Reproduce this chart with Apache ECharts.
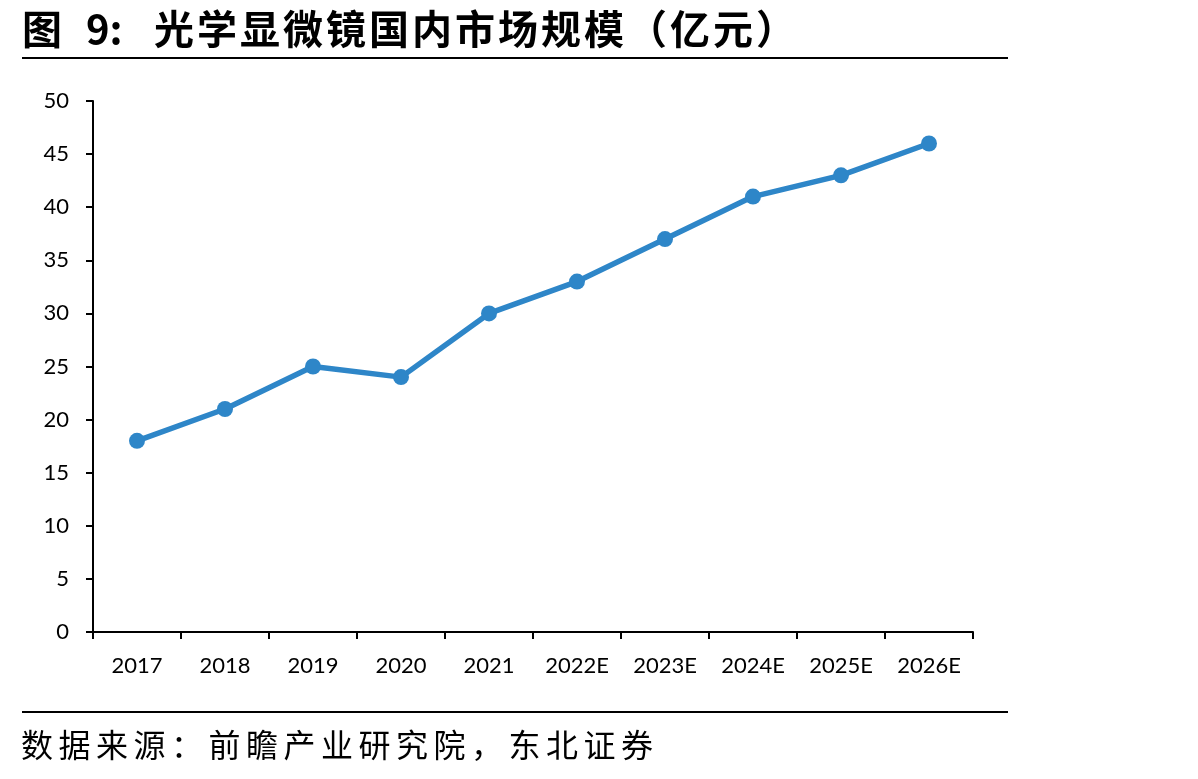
<!DOCTYPE html>
<html>
<head>
<meta charset="utf-8">
<script src="https://cdn.jsdelivr.net/npm/echarts@6/dist/echarts.min.js"></script>
<style>
  html, body { margin: 0; padding: 0; background: #fff; }
  #main { width: 1198px; height: 779px; }
</style>
</head>
<body>
<div id="main"></div>
<script>
// 年份与市场规模（亿元）
var years = ['2017', '2018', '2019', '2020', '2021', '2022E', '2023E', '2024E', '2025E', '2026E'];
var marketSize = [18, 21, 25, 24, 30, 33, 37, 41, 43, 46];
var yTicks = [0, 5, 10, 15, 20, 25, 30, 35, 40, 45, 50];

var titleText = '光学显微镜国内市场规模（亿元）';
var sourceText = '数据来源：前瞻产业研究院，东北证券';

// 按固定间距逐字排列文字
function spacedText(str, x0, step, y, font) {
  var out = [];
  for (var i = 0; i < str.length; i++) {
    out.push({ type: 'text', x: x0 + i * step, y: y,
      style: { text: str.charAt(i), font: font, fill: '#000', textVerticalAlign: 'middle' } });
  }
  return out;
}

var chart = echarts.init(document.getElementById('main'));

var graphics = [
  { type: 'text', x: 22, y: 29, style: { text: '图', font: 'bold 40px "Noto Sans CJK SC"', fill: '#000', textVerticalAlign: 'middle' } },
  { type: 'text', x: 86, y: 29, style: { text: '9:', font: 'bold 40px "Noto Sans CJK SC"', fill: '#000', textVerticalAlign: 'middle' } },
  { type: 'line', shape: { x1: 22, y1: 58, x2: 1008, y2: 58 }, style: { stroke: '#000', lineWidth: 2 } },
  { type: 'line', shape: { x1: 22, y1: 712, x2: 1008, y2: 712 }, style: { stroke: '#000', lineWidth: 2 } }
];
graphics = graphics.concat(spacedText(titleText, 154, 43, 29, 'bold 40px "Noto Sans CJK SC"'));
graphics = graphics.concat(spacedText(sourceText, 21, 37.5, 745, '32px "Noto Sans CJK SC"'));

var option = {
  backgroundColor: '#fff',
  animation: false,
  graphic: graphics,
  grid: { left: 93, right: 225, top: 101, bottom: 147 },
  xAxis: {
    type: 'category',
    data: years,
    boundaryGap: true,
    axisLine: { lineStyle: { color: '#000', width: 2 } },
    axisTick: { show: true, length: 7, inside: false, lineStyle: { color: '#000', width: 2 } },
    axisLabel: { color: '#000', fontSize: 22, fontFamily: 'Lato', margin: 23 }
  },
  yAxis: {
    type: 'value',
    min: 0,
    max: 50,
    interval: 5,
    splitLine: { show: false },
    axisLine: { show: true, lineStyle: { color: '#000', width: 2 } },
    axisTick: { show: true, length: 7, lineStyle: { color: '#000', width: 2 } },
    axisLabel: { color: '#000', fontSize: 22, fontFamily: 'Lato', margin: 24 }
  },
  series: [{
    name: '市场规模',
    type: 'line',
    data: marketSize,
    symbol: 'circle',
    symbolSize: 16,
    lineStyle: { color: '#2E86C8', width: 5.5 },
    itemStyle: { color: '#2E86C8' }
  }]
};

chart.setOption(option);
</script>
</body>
</html>
